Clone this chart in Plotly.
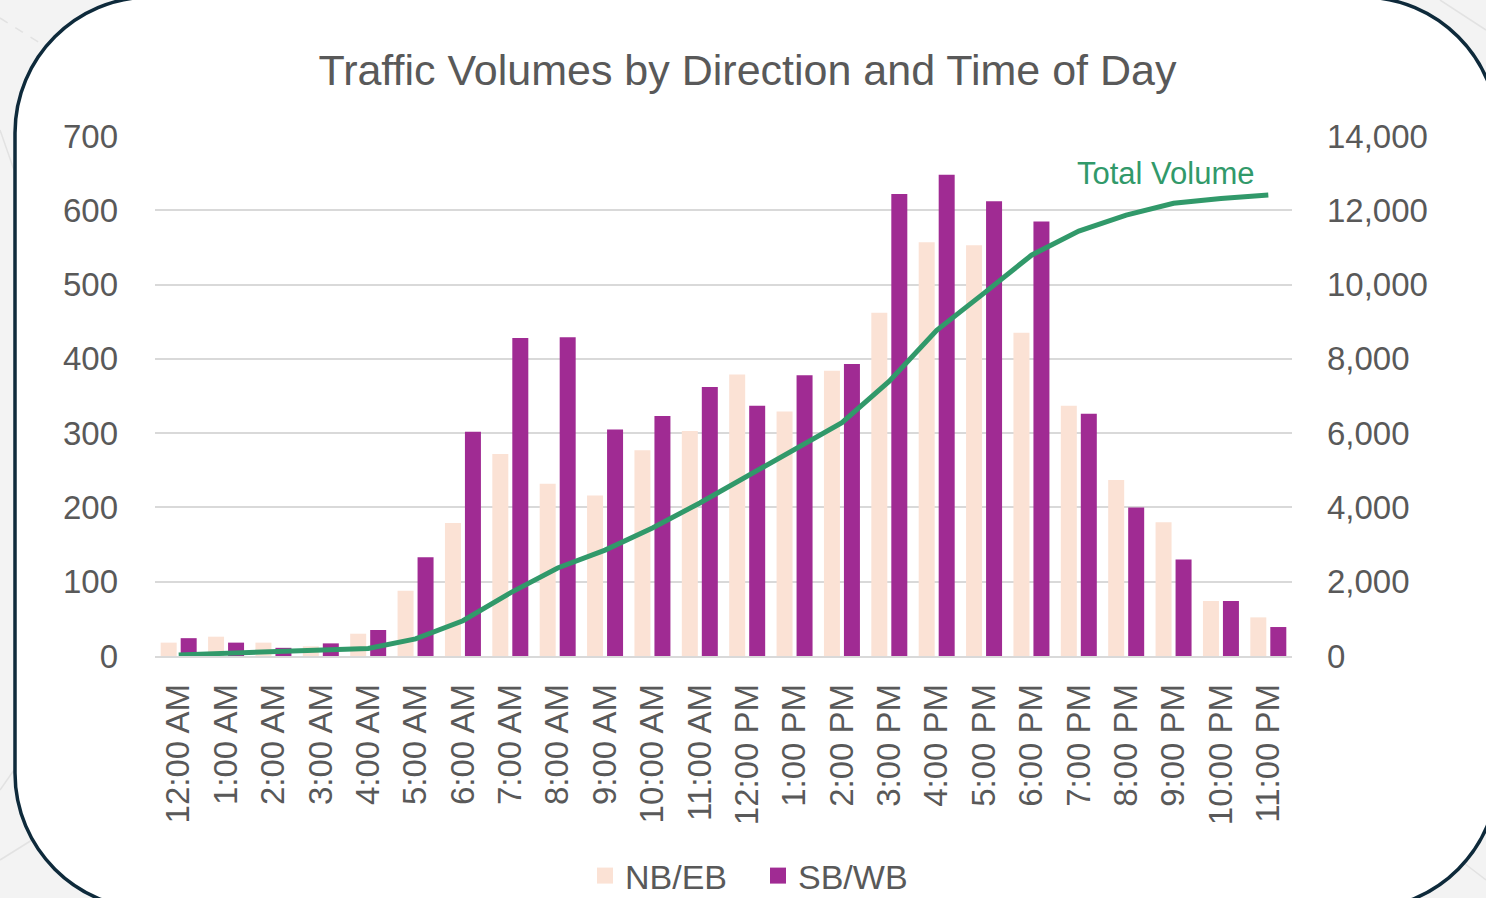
import plotly.graph_objects as go

# ---------------- data ----------------
categories = ["12:00 AM", "1:00 AM", "2:00 AM", "3:00 AM", "4:00 AM", "5:00 AM",
              "6:00 AM", "7:00 AM", "8:00 AM", "9:00 AM", "10:00 AM", "11:00 AM",
              "12:00 PM", "1:00 PM", "2:00 PM", "3:00 PM", "4:00 PM", "5:00 PM",
              "6:00 PM", "7:00 PM", "8:00 PM", "9:00 PM", "10:00 PM", "11:00 PM"]
nb_eb = [18, 26, 18, 13, 30, 88, 179, 272, 232, 216, 277, 303,
         379, 329, 384, 462, 557, 553, 435, 337, 237, 180, 74, 52]
sb_wb = [24, 18, 11, 17, 35, 133, 302, 428, 429, 305, 323, 362,
         337, 378, 393, 622, 648, 612, 585, 326, 200, 130, 74, 39]
total_volume = [30, 75, 105, 135, 205, 460, 950, 1700, 2370, 2850, 3445, 4120,
                4830, 5545, 6280, 7400, 8770, 9770, 10790, 11440, 11870, 12190, 12320, 12410]
left_ticks = [0, 100, 200, 300, 400, 500, 600, 700]
right_ticks = [0, 2000, 4000, 6000, 8000, 10000, 12000, 14000]

# ---------------- style ----------------
W, H = 1486, 898
ML, MR, MT, MB = 155, 194, 136, 242
PW, PH = W - ML - MR, H - MT - MB
FONT = "Liberation Sans, Arial, sans-serif"
GREY = "#595959"
GRID = "#D9D9D9"
NB_COLOR = "#FBE2D5"
SB_COLOR = "#A02B93"
GREEN = "#31996A"
OUTSIDE = "#F3F3F3"


def px(x):
    return (x - ML) / PW


def py(y):
    return (H - MB - y) / PH


def frame_path(x0, y0, x1, y1, r):
    k = 0.5523 * r
    pts = [
        ("M", [(x0, y0 + r)]),
        ("C", [(x0, y0 + r - k), (x0 + r - k, y0), (x0 + r, y0)]),
        ("L", [(x1 - r, y0)]),
        ("C", [(x1 - r + k, y0), (x1, y0 + r - k), (x1, y0 + r)]),
        ("L", [(x1, y1 - r)]),
        ("C", [(x1, y1 - r + k), (x1 - r + k, y1), (x1 - r, y1)]),
        ("L", [(x0 + r, y1)]),
        ("C", [(x0 + r - k, y1), (x0, y1 - r + k), (x0, y1 - r)]),
    ]
    s = ""
    for cmd, ps in pts:
        s += cmd + " " + " ".join(f"{px(a):.5f},{py(b):.5f}" for a, b in ps) + " "
    return s + "Z"


fig = go.Figure()

fig.add_trace(go.Bar(x=categories, y=nb_eb, name="NB/EB", marker_color=NB_COLOR,
                     marker_line_width=0, showlegend=False, legendgroup="nb"))
fig.add_trace(go.Bar(x=categories, y=sb_wb, name="SB/WB", marker_color=SB_COLOR,
                     marker_line_width=0, showlegend=False, legendgroup="sb"))
fig.add_trace(go.Scatter(x=categories, y=total_volume, name="Total Volume", yaxis="y2",
                         mode="lines", line=dict(color=GREEN, width=5), showlegend=False))
# legend entries (square symbols)
fig.add_trace(go.Scatter(x=[None], y=[None], name="NB/EB", mode="markers", legendgroup="nb",
                         marker=dict(symbol="square", size=16, color=NB_COLOR)))
fig.add_trace(go.Scatter(x=[None], y=[None], name="SB/WB", mode="markers", legendgroup="sb",
                         marker=dict(symbol="square", size=16, color=SB_COLOR)))

shapes = []
# faint background map lines outside the frame
for (xa, ya, xb, yb, dash) in [(0, 18, 48, 48, "dash"), (0, 130, 14, 170, "solid"),
                               (0, 790, 14, 770, "solid"), (0, 860, 40, 835, "solid"),
                               (1440, 0, 1486, 30, "solid"), (1460, 860, 1486, 880, "solid")]:
    shapes.append(dict(type="line", xref="paper", yref="paper", x0=px(xa), y0=py(ya),
                       x1=px(xb), y1=py(yb), line=dict(color="#E2E2E2", width=1.5, dash=dash),
                       layer="below"))
shapes.append(dict(type="path", xref="paper", yref="paper",
                   path=frame_path(15, -3, 1498, 909, 136),
                   fillcolor="white", line=dict(color="#0E2A3B", width=3.5), layer="below"))

fig.update_layout(
    width=W, height=H,
    margin=dict(l=ML, r=MR, t=MT, b=MB, autoexpand=False),
    paper_bgcolor=OUTSIDE,
    plot_bgcolor="rgba(0,0,0,0)",
    font=dict(family=FONT, color=GREY, size=33),
    title=dict(text="Traffic Volumes by Direction and Time of Day",
               font=dict(family=FONT, size=43, color=GREY),
               x=0.503, xanchor="center", y=1 - 70 / H, yanchor="middle"),
    barmode="group", bargap=0.156, bargroupgap=0.2,
    xaxis=dict(type="category", tickangle=-90, showgrid=False, showline=True,
               linecolor=GRID, linewidth=1.5, ticks="", ticklabelstandoff=13,
               tickfont=dict(size=33, color=GREY), fixedrange=True),
    yaxis=dict(range=[0, 700], tickvals=left_ticks, showgrid=True, gridcolor=GRID,
               gridwidth=1.5, zeroline=False, showline=False, ticks="",
               ticklabelstandoff=36, tickfont=dict(size=33, color=GREY)),
    yaxis2=dict(range=[0, 14000], tickvals=right_ticks, tickformat=",", overlaying="y",
                side="right", showgrid=False, zeroline=False, showline=False, ticks="",
                ticklabelstandoff=34, tickfont=dict(size=33, color=GREY)),
    legend=dict(orientation="h", x=px(758), xanchor="center", y=py(876), yanchor="middle",
                font=dict(size=34, color=GREY), bgcolor="rgba(0,0,0,0)",
                entrywidth=128, entrywidthmode="pixels",
                itemclick=False, itemdoubleclick=False),
    shapes=shapes,
    annotations=[dict(text="Total Volume", x=categories[-1], y=total_volume[-1],
                      xref="x", yref="y2", xanchor="right", yanchor="middle",
                      xshift=-11, yshift=22, showarrow=False,
                      font=dict(family=FONT, size=31, color=GREEN))],
)

fig.write_html(
    "out.html",
    config={"displayModeBar": False},
    post_script="document.body.style.margin='0';document.body.style.background='%s';" % OUTSIDE,
)
